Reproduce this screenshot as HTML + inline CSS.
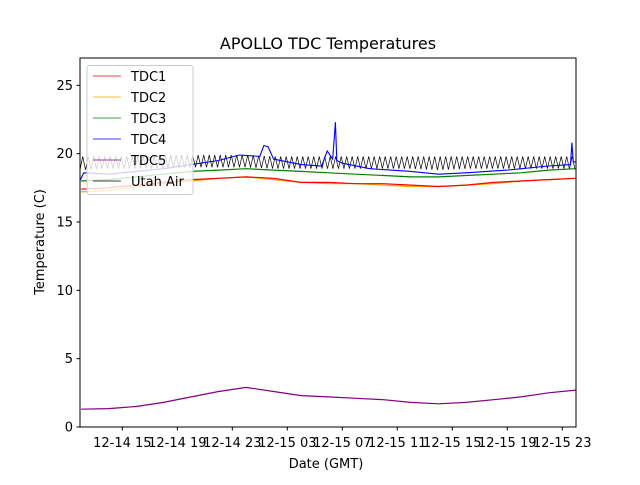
<!DOCTYPE html>
<html><head><meta charset="utf-8"><style>
body{margin:0;background:#fff;width:640px;height:480px;overflow:hidden}
svg{font-family:"DejaVu Sans","Liberation Sans",sans-serif}
</style></head><body>
<svg id="chart" width="640" height="480"></svg>
<script>
const hours=[12,14,16,18,20,22,24,26,28,30,32,34,36,38,40,42,44,46,48];
const tdc1=[17.4,17.5,17.7,17.9,18.1,18.2,18.3,18.2,17.9,17.9,17.8,17.8,17.7,17.6,17.7,17.9,18.0,18.1,18.2];
const tdc2=[17.2,17.3,17.6,17.8,18.0,18.2,18.3,18.1,17.9,17.8,17.8,17.7,17.6,17.6,17.7,17.8,18.0,18.1,18.2];
const tdc3=[18.0,18.1,18.3,18.5,18.7,18.8,18.9,18.8,18.7,18.6,18.5,18.4,18.3,18.3,18.4,18.5,18.6,18.8,18.9];
const tdc5=[1.3,1.35,1.5,1.8,2.2,2.6,2.9,2.6,2.3,2.2,2.1,2.0,1.8,1.7,1.8,2.0,2.2,2.5,2.7];
const utahHi=[19.8,19.8,19.8,19.9,19.9,19.9,19.9,19.8,19.8,19.8,19.8,19.8,19.8,19.8,19.8,19.8,19.8,19.8,19.8];
const utahLo=[18.8,18.9,18.9,18.9,19.0,19.0,19.0,18.9,18.9,18.9,18.9,18.9,18.9,18.8,18.9,18.9,18.9,18.9,18.9];
const tdc4Hours=[11.9,12.2,14,16,18,20,22,23.5,25,25.3,25.6,26,28,29.5,29.9,30.3,30.5,30.6,31,33,36,38,40,43,46,47.6,47.7,47.8,48];
const tdc4=[18.0,18.6,18.5,18.7,18.9,19.2,19.5,19.9,19.8,20.6,20.5,19.6,19.2,19.1,20.2,19.6,22.3,19.5,19.3,18.9,18.7,18.5,18.6,18.8,19.1,19.2,20.8,19.4,19.4];
const yTicks=[0,5,10,15,20,25];
const xTickHours=[15,19,23,27,31,35,39,43,47];
const xTickLabels=["12-14 15","12-14 19","12-14 23","12-15 03","12-15 07","12-15 11","12-15 15","12-15 19","12-15 23"];
const seriesNames=["TDC1","TDC2","TDC3","TDC4","TDC5","Utah Air"];
const seriesColors=["#ff0000","#ffa500","#008000","#0000ff","#800080","#000000"];

const L=80,R=576,T=58,B=427,X0=11.92,X1=48,Y0=0,Y1=27;
const xs=h=>L+(h-X0)/(X1-X0)*(R-L);
const ys=v=>B-(v-Y0)/(Y1-Y0)*(B-T);
const NS="http://www.w3.org/2000/svg";
const svg=document.getElementById('chart');
function mk(tag,attrs,parent){const e=document.createElementNS(NS,tag);for(const k in attrs)e.setAttribute(k,attrs[k]);(parent||svg).appendChild(e);return e;}
function interp(hs,vs,h){for(let i=0;i<hs.length-1;i++){if(h<=hs[i+1]){const t=(h-hs[i])/(hs[i+1]-hs[i]);return vs[i]+t*(vs[i+1]-vs[i]);}}return vs[vs.length-1];}

const clip=mk('clipPath',{id:'pc'});mk('rect',{x:L,y:T,width:R-L,height:B-T},clip);
const plot=mk('g',{'clip-path':'url(#pc)'});
function line(hs,vs,color,name,w){
  const p=mk('polyline',{points:hs.map((h,i)=>xs(h).toFixed(1)+','+ys(vs[i]).toFixed(1)).join(' '),fill:'none',stroke:color,'stroke-width':w||1.2},plot);
  
  
}
line(hours,tdc5,seriesColors[4],'tdc5-line');
line(hours,tdc2,seriesColors[1],'tdc2-line');
line(hours,tdc1,seriesColors[0],'tdc1-line');
line(hours,tdc3,seriesColors[2],'tdc3-line');
const uh=[],uv=[];let k=0;
for(let h=X0;h<=X1;h+=0.2,k++){uh.push(h);uv.push(k%2?interp(hours,utahHi,h):interp(hours,utahLo,h));}
line(uh,uv,seriesColors[5],'utah-air-line',0.7);
line(tdc4Hours,tdc4,seriesColors[3],'tdc4-line',1.1);

const fr=mk('rect',{x:L,y:T,width:R-L,height:B-T,fill:'none',stroke:'#000','stroke-width':1});


yTicks.forEach(v=>{
  mk('line',{x1:L-3.5,x2:L,y1:ys(v),y2:ys(v),stroke:'#000'});
  const t=mk('text',{x:L-7,y:ys(v)+4.5,'text-anchor':'end','font-size':13});t.textContent=v;
  
  
});
xTickHours.forEach((h,i)=>{
  mk('line',{x1:xs(h),x2:xs(h),y1:B,y2:B+3.5,stroke:'#000'});
  const t=mk('text',{x:xs(h),y:B+20,'text-anchor':'middle','font-size':13});t.textContent=xTickLabels[i];
  
  
});
const tt=mk('text',{x:328,y:49,'text-anchor':'middle','font-size':16});tt.textContent='APOLLO TDC Temperatures';


const xl=mk('text',{x:326,y:468,'text-anchor':'middle','font-size':13});xl.textContent='Date (GMT)';


const yl=mk('text',{x:44,y:242,'text-anchor':'middle','font-size':13,transform:'rotate(-90 44 242)'});yl.textContent='Temperature (C)';



const lg=mk('g',{});


mk('rect',{x:87,y:65.5,width:106,height:129,rx:2.5,fill:'rgba(255,255,255,0.8)',stroke:'#ccc'},lg);
seriesNames.forEach((n,i)=>{
  const y=76+i*21;
  const g=mk('g',{},lg);
  
  
  mk('line',{x1:93,x2:121,y1:y,y2:y,stroke:seriesColors[i],'stroke-width':0.8},g);
  const t=mk('text',{x:131,y:y+5,'font-size':13},g);t.textContent=n;
});
</script>
</body></html>
